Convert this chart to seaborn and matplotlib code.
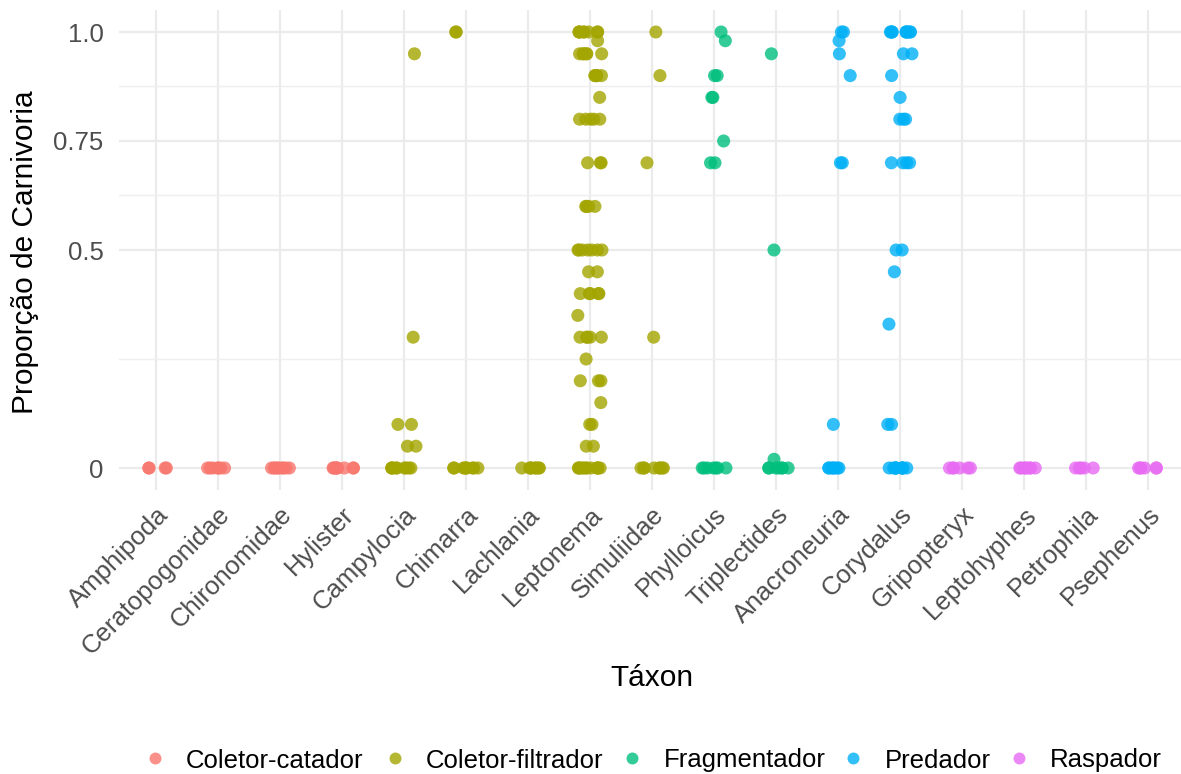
import numpy as np
import pandas as pd
import matplotlib
matplotlib.use("Agg")
import matplotlib.pyplot as plt
from matplotlib.lines import Line2D
import seaborn as sns

# Taxa in plotting order and the functional feeding group of each
taxa = ["Amphipoda", "Ceratopogonidae", "Chironomidae", "Hylister", "Campylocia",
        "Chimarra", "Lachlania", "Leptonema", "Simuliidae", "Phylloicus",
        "Triplectides", "Anacroneuria", "Corydalus", "Gripopteryx", "Leptohyphes",
        "Petrophila", "Psephenus"]
taxon_group = ["Coletor-catador", "Coletor-catador", "Coletor-catador", "Coletor-catador",
               "Coletor-filtrador", "Coletor-filtrador", "Coletor-filtrador",
               "Coletor-filtrador", "Coletor-filtrador", "Fragmentador", "Fragmentador",
               "Predador", "Predador", "Raspador", "Raspador", "Raspador", "Raspador"]
group_names = ["Coletor-catador", "Coletor-filtrador", "Fragmentador", "Predador", "Raspador"]
group_colors = ["#F8766D", "#A3A500", "#00BF7D", "#00B0F6", "#E76BF3"]

# Proportion of animal matter in the gut contents of each individual
amphipoda = [0, 0, 0, 0]
ceratopogonidae = [0, 0, 0, 0, 0, 0, 0]
chironomidae = [0, 0, 0, 0, 0, 0, 0, 0, 0]
hylister = [0, 0, 0, 0, 0, 0, 0, 0, 0]
campylocia = [0, 0, 0, 0, 0, 0, 0, 0, 0, 0.05, 0.05, 0.10, 0.10, 0.30, 0.95]
chimarra = [0, 0, 0, 0, 0, 0, 0, 0, 0, 1.0, 1.0]
lachlania = [0, 0, 0, 0, 0, 0, 0, 0]
leptonema = [0, 0, 0, 0, 0, 0, 0, 0, 0, 0, 0, 0,
             0.05, 0.05, 0.10, 0.10, 0.15, 0.20, 0.20, 0.20, 0.25,
             0.30, 0.30, 0.30, 0.30, 0.30, 0.35, 0.40, 0.40, 0.40, 0.40, 0.40,
             0.45, 0.45, 0.50, 0.50, 0.50, 0.50, 0.50, 0.50, 0.50,
             0.60, 0.60, 0.60, 0.60, 0.70, 0.70, 0.70,
             0.80, 0.80, 0.80, 0.80, 0.80, 0.85,
             0.90, 0.90, 0.90, 0.90, 0.90, 0.90,
             0.95, 0.95, 0.95, 0.95, 0.95, 0.95, 0.98,
             1.0, 1.0, 1.0, 1.0, 1.0, 1.0, 1.0, 1.0]
simuliidae = [0, 0, 0, 0, 0, 0, 0, 0, 0.30, 0.70, 0.90, 1.0]
phylloicus = [0, 0, 0, 0, 0, 0, 0, 0.70, 0.70, 0.75, 0.85, 0.85, 0.90, 0.90, 0.98, 1.0]
triplectides = [0, 0, 0, 0, 0, 0, 0, 0.02, 0.50, 0.95]
anacroneuria = [0, 0, 0, 0, 0, 0, 0, 0.10, 0.70, 0.70, 0.90, 0.95, 0.98, 1.0, 1.0]
corydalus = [0, 0, 0, 0, 0, 0, 0, 0, 0, 0, 0.10, 0.10, 0.33, 0.45, 0.50, 0.50,
             0.70, 0.70, 0.70, 0.70, 0.80, 0.80, 0.80, 0.85, 0.90, 0.95, 0.95,
             1.0, 1.0, 1.0, 1.0, 1.0, 1.0, 1.0, 1.0, 1.0, 1.0]
gripopteryx = [0, 0, 0, 0, 0, 0]
leptohyphes = [0, 0, 0, 0, 0, 0, 0, 0]
petrophila = [0, 0, 0, 0, 0]
psephenus = [0, 0, 0, 0, 0, 0]

values_by_taxon = [amphipoda, ceratopogonidae, chironomidae, hylister, campylocia,
                   chimarra, lachlania, leptonema, simuliidae, phylloicus,
                   triplectides, anacroneuria, corydalus, gripopteryx, leptohyphes,
                   petrophila, psephenus]

y_ticks = [0, 0.5, 0.75, 1.0]
y_tick_labels = ["0", "0.5", "0.75", "1.0"]

rows = []
for name, grp, vals in zip(taxa, taxon_group, values_by_taxon):
    for v in vals:
        rows.append({"Táxon": name, "Grupo": grp, "Carnivoria": v})
df = pd.DataFrame(rows)

sns.set_theme(style="white")
plt.rcParams["font.family"] = ["Liberation Sans", "DejaVu Sans"]

W, H = 1181, 774
fig = plt.figure(figsize=(W / 100, H / 100), dpi=100)
fig.patch.set_facecolor("white")

# panel placement in pixels
px_left, px_right, px_top, px_bottom = 118.8, 1185.0, 10.2, 489.8
ax = fig.add_axes([px_left / W, 1 - px_bottom / H,
                   (px_right - px_left) / W, (px_bottom - px_top) / H])
ax.set_facecolor("white")

np.random.seed(5)
sns.stripplot(data=df, x="Táxon", y="Carnivoria", hue="Grupo", order=taxa,
              hue_order=group_names, palette=group_colors, jitter=0.2,
              size=9.4, alpha=0.8, linewidth=0, legend=False, ax=ax, zorder=3)

ax.set_xlim(-0.6, len(taxa) - 0.4)
ax.set_ylim(-0.05, 1.05)
ax.set_yticks(y_ticks)
ax.set_yticklabels(y_tick_labels)
ax.set_yticks([0.25, 0.625, 0.875], minor=True)

ax.set_axisbelow(True)
ax.grid(which="major", axis="both", color="#EBEBEB", linewidth=1.6)
ax.grid(which="minor", axis="y", color="#EFEFEF", linewidth=1.0)
for s in ax.spines.values():
    s.set_visible(False)

ax.tick_params(axis="both", which="both", length=0)
ax.tick_params(axis="y", labelsize=18.5, labelcolor="#4D4D4D", pad=11)
ax.tick_params(axis="x", labelsize=18.5, labelcolor="#4D4D4D", pad=9)
for lab in ax.get_xticklabels():
    lab.set_rotation(45)
    lab.set_ha("right")
    lab.set_va("top")
    lab.set_rotation_mode("anchor")

ax.set_xlabel("Táxon", fontsize=21.5, color="black")
ax.set_ylabel("Proporção de Carnivoria", fontsize=21.5, color="black")
ax.xaxis.set_label_coords(0.5, (px_bottom - 678) / (px_bottom - px_top))
ax.xaxis.label.set_va("center")
ax.yaxis.set_label_coords((25 - px_left) / (px_right - px_left),
                          (px_bottom - 252) / (px_bottom - px_top))
ax.yaxis.label.set_va("center")

# horizontal legend along the bottom: key dot followed by its label
legend_y = 1 - 758 / H
key_x = [155, 395, 632, 853, 1019]
text_x = [186, 426, 664, 885, 1050]
for kx, tx, name, col in zip(key_x, text_x, group_names, group_colors):
    fig.add_artist(Line2D([kx / W], [legend_y], marker="o", linestyle="none",
                          markersize=8.6, markerfacecolor=col, markeredgewidth=0,
                          alpha=0.8, transform=fig.transFigure))
    fig.text(tx / W, legend_y, name, fontsize=18.5, color="black",
             ha="left", va="center_baseline")

fig.savefig("out.png", dpi=100, facecolor="white")
